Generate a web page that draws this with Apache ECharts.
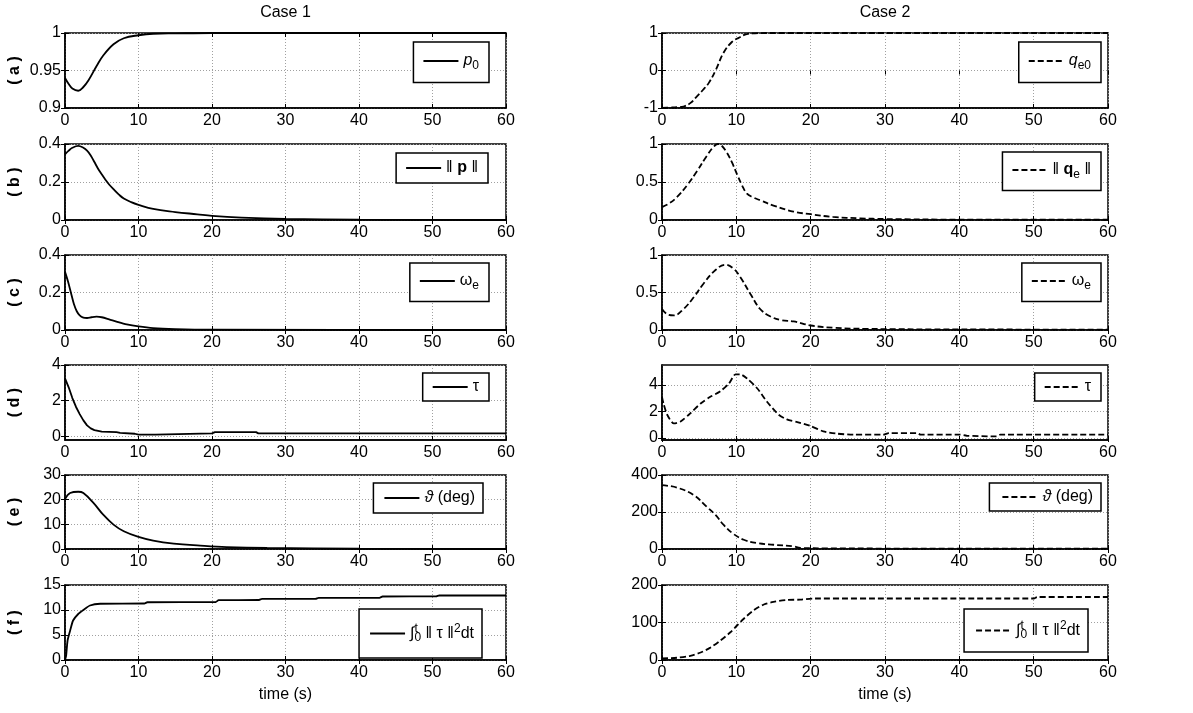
<!DOCTYPE html>
<html>
<head>
<meta charset="utf-8">
<script src="https://cdn.jsdelivr.net/npm/echarts@6/dist/echarts.min.js"></script>
<style>
html,body{margin:0;padding:0;background:#fff;}
#chart{width:1193px;height:713px;}
</style>
</head>
<body>
<div id="chart"></div>
<script>
// ---------------- DATA ----------------
const caseTitles = ['Case 1', 'Case 2'];
const rowLabels = ['( a )', '( b )', '( c )', '( d )', '( e )', '( f )'];
const xAxisName = 'time (s)';

// Case 1 (solid)
const p0Data = [[0,0.940],[0.5,0.932],[1,0.926],[1.8,0.923],[2.5,0.928],[3.2,0.937],[4.3,0.956],[5.2,0.970],[6.6,0.985],[8,0.993],[10,0.997],[12,0.999],[15,0.9995],[20,1],[60,1]];
const pNormData = [[0,0.345],[0.5,0.365],[1,0.38],[1.8,0.39],[2.5,0.38],[3,0.365],[3.5,0.34],[4,0.305],[4.5,0.27],[5,0.24],[5.5,0.212],[6,0.187],[6.6,0.162],[7.3,0.135],[8,0.113],[9,0.094],[10,0.08],[12,0.058],[15,0.042],[18,0.03],[20,0.022],[24,0.013],[30,0.006],[40,0.002],[60,0]];
const we1Data = [[0,0.31],[0.4,0.26],[0.8,0.2],[1.2,0.14],[1.6,0.1],[2,0.078],[2.5,0.066],[3,0.064],[3.6,0.068],[4.3,0.071],[5,0.068],[6,0.057],[7,0.045],[8.4,0.03],[10,0.019],[12,0.01],[15,0.005],[20,0.002],[60,0]];
const tau1Data = [[0,3.25],[0.5,2.75],[1,2.15],[1.5,1.65],[2,1.25],[2.5,0.9],[3,0.62],[3.5,0.45],[4,0.35],[5,0.27],[7,0.24],[7.5,0.2],[9.5,0.15],[10,0.1],[12.3,0.1],[12.5,0.17],[20,0.17],[20.4,0.24],[26,0.24],[26.3,0.17],[60,0.17]];
const theta1Data = [[0,20.2],[0.7,22.7],[1.8,23.2],[2.5,22.7],[3.9,18.6],[5.2,13.9],[6.6,9.9],[8,7.2],[10,4.9],[12,3.4],[14.8,2.2],[18.4,1.4],[22,0.8],[27.5,0.4],[40,0.1],[60,0]];
const int1Data = [[0,0],[0.15,0.8],[0.35,3.9],[0.7,5.9],[1.1,7.9],[1.8,9.2],[2.5,10],[3.4,10.9],[4.8,11.25],[10.8,11.3],[11.2,11.55],[20.5,11.6],[20.9,11.96],[26.4,12.0],[26.8,12.23],[34.1,12.25],[34.5,12.43],[42.8,12.45],[43.2,12.7],[50.5,12.72],[50.9,12.9],[60,12.9]];

// Case 2 (dashed)
const qe0Data = [[0,-1],[1,-0.99],[2,-0.98],[2.9,-0.96],[3.8,-0.87],[4.7,-0.69],[5.5,-0.52],[6.3,-0.33],[7.2,0],[8.3,0.48],[9.4,0.76],[10.3,0.87],[11.4,0.97],[12.5,0.99],[14,1],[60,1]];
const qeNormData = [[0,0.17],[1,0.22],[2,0.3],[3.4,0.46],[4.7,0.64],[6,0.84],[7,0.97],[7.5,1.0],[8,0.98],[8.7,0.89],[9.4,0.76],[10.1,0.6],[10.8,0.45],[11.4,0.35],[12.2,0.3],[13.2,0.26],[15,0.19],[17.7,0.11],[20,0.076],[23,0.04],[26.7,0.022],[30,0.013],[40,0.005],[60,0.003]];
const we2Data = [[0,0.28],[0.7,0.21],[1.6,0.195],[2.9,0.28],[4.3,0.44],[5.6,0.62],[7.2,0.8],[8.5,0.87],[9.6,0.82],[10.5,0.71],[11.9,0.48],[13.2,0.28],[14.6,0.18],[16.1,0.13],[17.7,0.115],[20,0.06],[23.1,0.03],[27.6,0.015],[40,0.008],[60,0.005]];
const tau2Data = [[0,3.1],[0.2,2.6],[0.7,1.75],[1.6,1.1],[2.5,1.25],[3.8,1.85],[5.2,2.6],[6.5,3.1],[7.8,3.5],[9,4.1],[9.9,4.8],[10.5,4.8],[11.4,4.5],[12.8,3.75],[14.1,2.75],[15.7,1.75],[16.8,1.4],[18.2,1.2],[20,0.9],[21.7,0.5],[23.5,0.33],[25.8,0.25],[29.8,0.25],[30.5,0.37],[34.3,0.37],[34.8,0.25],[40.1,0.25],[41,0.17],[45,0.12],[45.5,0.25],[60,0.25]];
const theta2Data = [[0,345],[2,332],[4.3,291],[6,229],[7.2,184],[8.3,130],[9.6,82],[11,50],[12.8,32],[15,23],[17.7,14],[18.6,6],[22.2,3.6],[30,2.5],[60,2]];
const int2Data = [[0,4.5],[2,6],[3.8,11],[5.2,20],[6.5,33],[7.8,51],[9.2,74],[10.1,92],[11,110],[12.3,132],[13.7,148],[15,155],[16.8,160],[18.6,161],[20.4,164],[50,164],[50.5,168],[60,168]];

// y axis tick values and ranges
const yTicksL = [[0.9,0.95,1],[0,0.2,0.4],[0,0.2,0.4],[0,2,4],[0,10,20,30],[0,5,10,15]];
const yRangeL = [[0.9,1],[0,0.4],[0,0.4],[-0.2,4],[0,30],[0,15]];
const yTicksR = [[-1,0,1],[0,0.5,1],[0,0.5,1],[0,2,4],[0,200,400],[0,100,200]];
const yRangeR = [[-1,1],[0,1],[0,1],[-0.15,5.5],[0,400],[0,200]];
const xTicks = [0,10,20,30,40,50,60];

const seriesL = [['p0',p0Data],['pn',pNormData],['we1',we1Data],['tau1',tau1Data],['th1',theta1Data],['in1',int1Data]];
const seriesR = [['qe0',qe0Data],['qen',qeNormData],['we2',we2Data],['tau2',tau2Data],['th2',theta2Data],['in2',int2Data]];

const legendText = {
  p0: '{it|p}{sub|0}',
  qe0: '{it|q}{sub|e0}',
  pn: '‖ {b|p} ‖',
  qen: '‖ {b|q}{sub|e} ‖',
  we1: 'ω{sub|e}', we2: 'ω{sub|e}',
  tau1: 'τ', tau2: 'τ',
  th1: '{it|ϑ} (deg)', th2: '{it|ϑ} (deg)',
  in1: '∫{supz|t}{sub|0} ‖ τ ‖{sup|2}dt', in2: '∫{supz|t}{sub|0} ‖ τ ‖{sup|2}dt'
};

// ---------------- LAYOUT ----------------
const FONT = '"Liberation Sans", Arial, Helvetica, sans-serif';
const FS = 16;
const colL = {left: 65, width: 441};
const colR = {left: 662, width: 446};
const rowTop = [33, 144, 255, 365, 475, 585];
const rowH = [75, 76, 75, 75, 74, 75];
// legend: [right, top, padV, padL, padR]
const legL = [[704,42,11,9,10],[705,153,7,9,10],[704,263,10,9,10],[704,373,6,9,10],[710,483,7,10,8],[711,609,14,10,8]];
const legR = [[92,42,11,9,10],[92,152,10,9,10],[92,263,10,9,10],[92,373,6,9,10],[92,483,6,12,8],[105,609,11,11,8]];
// smoothing per panel row (0 = straight segments)
const smoothL = [0.4, 0.4, 0.3, 0, 0.4, 0.2];
const smoothR = [0.4, 0.4, 0.4, 0.25, 0.4, 0.3];

const rich = {
  it: {fontStyle: 'italic', fontSize: FS, fontFamily: FONT, color: '#000'},
  b: {fontWeight: 'bold', fontSize: FS, fontFamily: FONT, color: '#000'},
  sub: {fontSize: 12, fontFamily: FONT, color: '#000', padding: [9, 0, 0, 0]},
  sup: {fontSize: 12, fontFamily: FONT, color: '#000', padding: [0, 0, 9, 0]},
  supz: {fontSize: 12, fontFamily: FONT, color: '#000', padding: [0, 0, 9, 0], width: 0}
};

const grids = [], xAxes = [], yAxes = [], series = [], legends = [];
const mirrorX = [], mirrorY = [];
const axisFont = {fontSize: FS, fontFamily: FONT, color: '#000'};
const gridLine = {show: true, lineStyle: {color: '#a0a0a0', type: [1, 2], width: 1}};

function addPanel(col, r, ticks, range, ser, leg, dashed, colIdx, smooth) {
  const gi = grids.length;
  grids.push({left: col.left, width: col.width, top: rowTop[r], height: rowH[r],
    show: true, borderColor: '#000', borderWidth: 1.5, backgroundColor: '#fff', containLabel: false});
  xAxes.push({
    type: 'value', gridIndex: gi, min: 0, max: 60, interval: 10,
    axisLine: {show: true, onZero: false, lineStyle: {color: '#000', width: 1.5}},
    axisTick: {inside: true, length: 4, lineStyle: {color: '#000'}},
    axisLabel: Object.assign({margin: 5, customValues: xTicks}, axisFont),
    splitLine: gridLine,
    name: r === 5 ? xAxisName : '',
    nameLocation: 'middle', nameGap: 27,
    nameTextStyle: {fontSize: FS, fontFamily: FONT, color: '#000'}
  });
  yAxes.push({
    type: 'value', gridIndex: gi, min: range[0], max: range[1],
    axisLine: {show: true, onZero: false, lineStyle: {color: '#000', width: 1.5}},
    axisTick: {inside: true, length: 4, customValues: ticks, lineStyle: {color: '#000'}},
    axisLabel: Object.assign({margin: 4, customValues: ticks}, axisFont),
    splitLine: gridLine,
    name: colIdx === 0 ? rowLabels[r] : '',
    nameLocation: 'middle', nameGap: 42, nameRotate: 90,
    nameTextStyle: {fontSize: FS, fontWeight: 'bold', fontFamily: FONT, color: '#000'}
  });
  // mirrored ticks on top and right edges
  mirrorX.push({
    type: 'value', gridIndex: gi, position: 'top', min: 0, max: 60, interval: 10,
    axisLine: {show: false}, axisLabel: {show: false}, splitLine: {show: false},
    axisTick: {inside: true, length: 4, lineStyle: {color: '#000'}}
  });
  mirrorY.push({
    type: 'value', gridIndex: gi, position: 'right', min: range[0], max: range[1],
    axisLine: {show: false}, axisLabel: {show: false, customValues: ticks}, splitLine: {show: false},
    axisTick: {inside: true, length: 4, customValues: ticks, lineStyle: {color: '#000'}}
  });
  series.push({
    type: 'line', name: ser[0], data: ser[1], xAxisIndex: gi, yAxisIndex: gi,
    symbol: 'none', showSymbol: false, smooth: smooth,
    lineStyle: {color: '#000', width: 1.8, type: dashed ? [6, 3] : 'solid'},
    itemStyle: {color: '#000'}, animation: false, silent: true
  });
  legends.push({
    data: [ser[0]], right: leg[0], top: leg[1], padding: [leg[2], leg[4], leg[2], leg[3]],
    itemWidth: 35, itemHeight: 14, itemGap: 5,
    borderColor: '#000', borderWidth: 1.5, backgroundColor: '#fff',
    selectedMode: false, formatter: n => legendText[n],
    textStyle: {fontSize: FS, fontFamily: FONT, color: '#000', rich: rich},
    itemStyle: {opacity: 0}
  });
}

for (let r = 0; r < 6; r++) {
  addPanel(colL, r, yTicksL[r], yRangeL[r], seriesL[r], legL[r], false, 0, smoothL[r]);
  addPanel(colR, r, yTicksR[r], yRangeR[r], seriesR[r], legR[r], true, 1, smoothR[r]);
}

const chart = echarts.init(document.getElementById('chart'), null, {renderer: 'canvas'});
chart.setOption({
  backgroundColor: '#fff',
  animation: false,
  title: [
    {text: caseTitles[0], left: colL.left + colL.width / 2, top: 5, textAlign: 'center', padding: 0,
     textStyle: {fontSize: FS, fontWeight: 'normal', fontFamily: FONT, color: '#000'}},
    {text: caseTitles[1], left: colR.left + colR.width / 2, top: 5, textAlign: 'center', padding: 0,
     textStyle: {fontSize: FS, fontWeight: 'normal', fontFamily: FONT, color: '#000'}}
  ],
  grid: grids, xAxis: xAxes.concat(mirrorX), yAxis: yAxes.concat(mirrorY), series: series, legend: legends
});
</script>
</body>
</html>
